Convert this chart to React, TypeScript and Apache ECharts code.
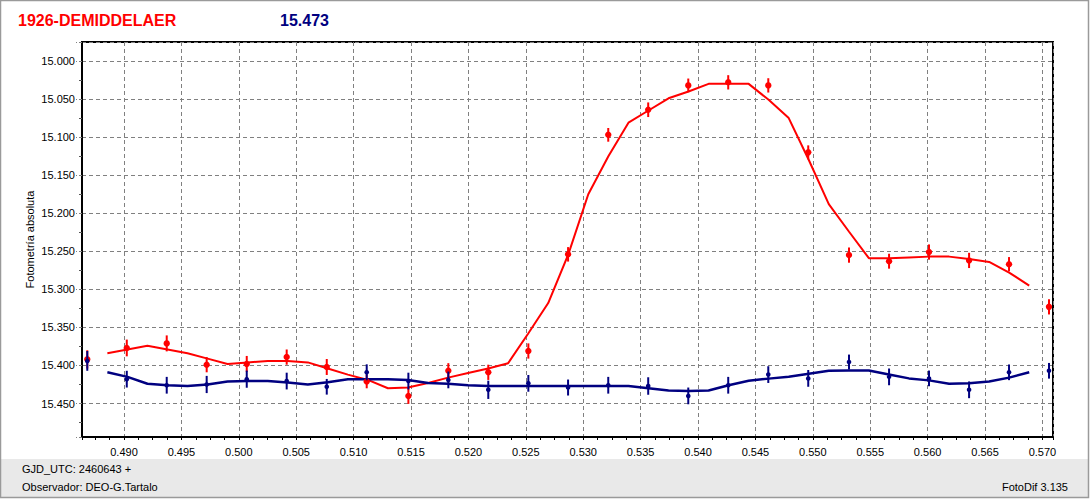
import React, { useEffect, useRef } from "react";
import * as echarts from "echarts";

// Observation times (GJD_UTC - 2460643)
const obsX = [
  0.4868, 0.49024, 0.49372, 0.4972, 0.50069, 0.50417, 0.50766, 0.51114, 0.51477,
  0.51825, 0.52173, 0.52522, 0.52868, 0.53218, 0.53566, 0.53915, 0.54263, 0.54612,
  0.5496, 0.55315, 0.55664, 0.56012, 0.56361, 0.56709, 0.57057,
];
// Target (red) magnitudes and errors
const redMag = [
  15.392, 15.377, 15.371, 15.399, 15.398, 15.389, 15.402, 15.421, 15.44,
  15.407, 15.409, 15.381, 15.254, 15.097, 15.064, 15.032, 15.028, 15.032,
  15.12, 15.255, 15.263, 15.251, 15.262, 15.267, 15.323,
];
const redErr = [
  0.012, 0.011, 0.0105, 0.01, 0.0105, 0.01, 0.0105, 0.009, 0.0105,
  0.01, 0.01, 0.01, 0.0095, 0.009, 0.0096, 0.009, 0.0094, 0.0094,
  0.0092, 0.01, 0.0098, 0.01, 0.01, 0.0094, 0.01,
];
// Check star (navy) magnitudes and errors
const blueMag = [
  15.394, 15.418, 15.426, 15.425, 15.418, 15.4205, 15.428, 15.409, 15.4205,
  15.419, 15.432, 15.4235, 15.429, 15.426, 15.427, 15.44, 15.426, 15.412,
  15.417, 15.3955, 15.415, 15.417, 15.432, 15.409, 15.407,
];
const blueErr = [
  0.013, 0.011, 0.011, 0.0113, 0.0113, 0.011, 0.0103, 0.0105, 0.011,
  0.011, 0.012, 0.011, 0.0105, 0.011, 0.0115, 0.011, 0.011, 0.011,
  0.011, 0.0098, 0.011, 0.0103, 0.011, 0.0103, 0.0103,
];
// Fitted curves
const fitX = [
  0.48855, 0.4903, 0.49204, 0.49379, 0.49553, 0.49728, 0.49902, 0.50077, 0.50252,
  0.50426, 0.50601, 0.50775, 0.5095, 0.51124, 0.51299, 0.51473, 0.51648, 0.51823,
  0.51997, 0.52172, 0.52346, 0.52521, 0.52695, 0.5287, 0.53044, 0.53219, 0.53394,
  0.53568, 0.53743, 0.53917, 0.54092, 0.54266, 0.54441, 0.54615, 0.5479, 0.54965,
  0.55139, 0.55314, 0.55488, 0.55663, 0.55837, 0.56012, 0.56187, 0.56361, 0.56536,
  0.5671, 0.56885,
];
const redFit = [
  15.384, 15.379, 15.374, 15.379, 15.384, 15.391, 15.398, 15.396, 15.394,
  15.394, 15.396, 15.404, 15.412, 15.419, 15.43, 15.429, 15.423, 15.416,
  15.41, 15.404, 15.397, 15.358, 15.318, 15.254, 15.175, 15.125, 15.081,
  15.065, 15.049, 15.04, 15.03, 15.03, 15.03, 15.051, 15.075, 15.13,
  15.188, 15.224, 15.259, 15.259, 15.258, 15.257, 15.257, 15.26, 15.264,
  15.278, 15.295,
];
const blueFit = [
  15.409, 15.415, 15.424, 15.426, 15.427, 15.425, 15.421, 15.4205, 15.4205,
  15.4225, 15.425, 15.422, 15.418, 15.418, 15.418, 15.419, 15.423, 15.424,
  15.426, 15.427, 15.427, 15.427, 15.427, 15.427, 15.427, 15.427, 15.427,
  15.43, 15.433, 15.4335, 15.433, 15.426, 15.42, 15.4173, 15.4147, 15.411,
  15.407, 15.4065, 15.4065, 15.412, 15.417, 15.4196, 15.424, 15.4235, 15.421,
  15.416, 15.409,
];

const RED = "#ff0000";
const NAVY = "#000080";
const FONT = "'Liberation Sans', Arial, sans-serif";

function errorSeries(xs: number[], ys: number[], es: number[], color: string, r: number, z: number) {
  return {
    type: "custom",
    z,
    clip: false,
    encode: { x: 0, y: 1 },
    data: xs.map((x, i) => [x, ys[i], es[i]]),
    renderItem: (params: any, api: any) => {
      const x = api.value(0);
      const y = api.value(1);
      const e = api.value(2);
      const p = api.coord([x, y]);
      const a = api.coord([x, y - e]);
      const b = api.coord([x, y + e]);
      return {
        type: "group",
        children: [
          {
            type: "line",
            shape: { x1: p[0], y1: a[1], x2: p[0], y2: b[1] },
            style: { stroke: color, lineWidth: 2 },
          },
          {
            type: "circle",
            shape: { cx: p[0], cy: p[1], r },
            style: { fill: color },
          },
        ],
      };
    },
  };
}

export default function App() {
  const ref = useRef<HTMLDivElement>(null);
  useEffect(() => {
    if (!ref.current) return;
    const chart = echarts.init(ref.current, undefined, { renderer: "svg" });
    chart.setOption({
      animation: false,
      backgroundColor: "#ffffff",
      textStyle: { fontFamily: FONT },
      grid: {
        show: true,
        left: 82,
        top: 42,
        right: 37,
        bottom: 62,
        borderColor: "#000",
        borderWidth: 2,
        containLabel: false,
      },
      xAxis: {
        type: "value",
        min: 0.48634,
        max: 0.57092,
        splitNumber: 17,
        axisLine: { show: true, lineStyle: { color: "#000", width: 2 } },
        axisTick: { show: true, length: 3, lineStyle: { color: "#000" } },
        minorTick: { show: true, splitNumber: 4, length: 3, lineStyle: { color: "#000" } },
        axisLabel: {
          formatter: (v: number) => v.toFixed(3),
          showMinLabel: false,
          showMaxLabel: false,
          fontSize: 11,
          color: "#000",
          margin: 9,
          fontFamily: FONT,
        },
        splitLine: { show: true, lineStyle: { color: "#808080", type: [4, 3], width: 1 } },
      },
      yAxis: {
        type: "value",
        inverse: true,
        min: 14.975,
        max: 15.494,
        splitNumber: 10,
        name: "Fotometría absoluta",
        nameLocation: "middle",
        nameGap: 47,
        nameMoveOverlap: false,
        nameTextStyle: { fontSize: 11, color: "#000", fontFamily: FONT },
        axisLine: { show: true, lineStyle: { color: "#000", width: 2 } },
        axisTick: { show: true, length: 6, lineStyle: { color: "#808080", type: [3, 2] } },
        minorTick: { show: true, splitNumber: 2, length: 3, lineStyle: { color: "#555" } },
        axisLabel: {
          formatter: (v: number) => v.toFixed(3),
          showMinLabel: false,
          showMaxLabel: false,
          fontSize: 11,
          color: "#000",
          margin: 7,
          fontFamily: FONT,
        },
        splitLine: { show: true, lineStyle: { color: "#808080", type: [4, 3], width: 1 } },
      },
      graphic: [
        {
          type: "rect",
          z: -10,
          shape: { x: 1, y: 459, width: 1087, height: 38 },
          style: { fill: "#e9e9e9" },
        },
        {
          type: "rect",
          z: 100,
          shape: { x: 0.5, y: 0.5, width: 1088, height: 497 },
          style: { fill: "none", stroke: "#9a9a9a", lineWidth: 1.5 },
        },
        {
          type: "text",
          x: 18,
          y: 20,
          style: {
            text: "1926-DEMIDDELAER",
            fill: RED,
            font: "bold 16px 'Liberation Sans', Arial, sans-serif",
            textVerticalAlign: "middle",
          },
        },
        {
          type: "text",
          x: 280,
          y: 20,
          style: {
            text: "15.473",
            fill: NAVY,
            font: "bold 16px 'Liberation Sans', Arial, sans-serif",
            textVerticalAlign: "middle",
          },
        },
        {
          type: "text",
          x: 22,
          y: 469,
          style: {
            text: "GJD_UTC: 2460643 +",
            fill: "#000",
            font: "11px 'Liberation Sans', Arial, sans-serif",
            textVerticalAlign: "middle",
          },
        },
        {
          type: "text",
          x: 22,
          y: 487,
          style: {
            text: "Observador: DEO-G.Tartalo",
            fill: "#000",
            font: "11px 'Liberation Sans', Arial, sans-serif",
            textVerticalAlign: "middle",
          },
        },
        {
          type: "text",
          x: 1068,
          y: 487,
          style: {
            text: "FotoDif 3.135",
            fill: "#000",
            font: "11px 'Liberation Sans', Arial, sans-serif",
            textAlign: "right",
            textVerticalAlign: "middle",
          },
        },
      ],
      series: [
        {
          type: "line",
          z: 2,
          data: fitX.map((x, i) => [x, redFit[i]]),
          symbol: "none",
          lineStyle: { color: RED, width: 2 },
        },
        {
          type: "line",
          z: 3,
          data: fitX.map((x, i) => [x, blueFit[i]]),
          symbol: "none",
          lineStyle: { color: NAVY, width: 2.5 },
        },
        errorSeries(obsX, redMag, redErr, RED, 3.2, 4),
        errorSeries(obsX, blueMag, blueErr, NAVY, 2.3, 5),
      ],
    });
    return () => chart.dispose();
  }, []);
  return (
    <div
      ref={ref}
      style={{ position: "absolute", left: 0, top: 0, width: 1090, height: 499 }}
    />
  );
}
